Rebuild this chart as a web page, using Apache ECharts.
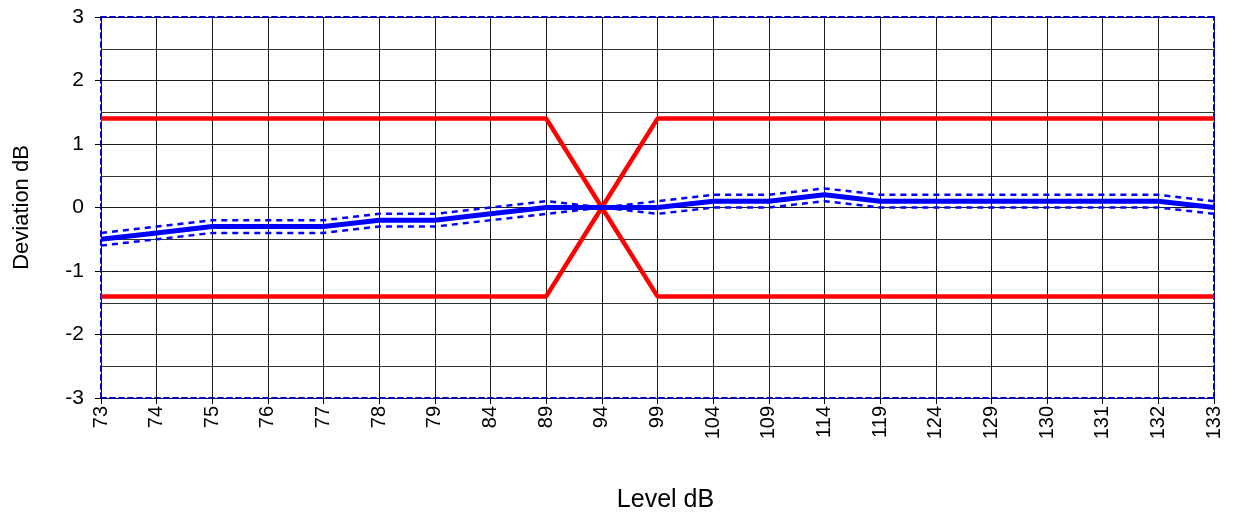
<!DOCTYPE html>
<html><head><meta charset="utf-8">
<script src="https://cdn.jsdelivr.net/npm/echarts@6/dist/echarts.min.js"></script>
<style>html,body{margin:0;padding:0;background:#fff}#c{width:1235px;height:513px}</style>
</head><body><div id="c"></div>
<script>
var categories = ['73','74','75','76','77','78','79','84','89','94','99','104','109','114','119','124','129','130','131','132','133'];
var deviation = [-0.5,-0.4,-0.3,-0.3,-0.3,-0.2,-0.2,-0.1,0,0,0,0.1,0.1,0.2,0.1,0.1,0.1,0.1,0.1,0.1,0];
var upperUnc  = [-0.4,-0.3,-0.2,-0.2,-0.2,-0.1,-0.1,0,0.1,0,0.1,0.2,0.2,0.3,0.2,0.2,0.2,0.2,0.2,0.2,0.1];
var lowerUnc  = [-0.6,-0.5,-0.4,-0.4,-0.4,-0.3,-0.3,-0.2,-0.1,0,-0.1,0,0,0.1,0,0,0,0,0,0,-0.1];
var limitA    = [1.4,1.4,1.4,1.4,1.4,1.4,1.4,1.4,1.4,0,-1.4,-1.4,-1.4,-1.4,-1.4,-1.4,-1.4,-1.4,-1.4,-1.4,-1.4];
var limitB    = [-1.4,-1.4,-1.4,-1.4,-1.4,-1.4,-1.4,-1.4,-1.4,0,1.4,1.4,1.4,1.4,1.4,1.4,1.4,1.4,1.4,1.4,1.4];

var FONT = 'Liberation Sans, Arial, sans-serif';
var borderStyle = {color:'#0000cc', width:2, type:[5,4]};
var chart = echarts.init(document.getElementById('c'));
chart.setOption({
  animation:false,
  backgroundColor:'#fff',
  grid:{left:101, right:21, top:17, bottom:115, containLabel:false, outerBoundsMode:'none'},
  xAxis:[{
    type:'category', data:categories, boundaryGap:false,
    name:'Level dB', nameLocation:'middle', nameGap:90,
    nameTextStyle:{fontFamily:FONT, fontSize:25, color:'#000', padding:[0,0,0,16]},
    axisLine:{show:true, onZero:false, lineStyle:borderStyle},
    axisTick:{show:true, alignWithLabel:true, length:6, lineStyle:{color:'#000'}},
    axisLabel:{rotate:90, fontFamily:FONT, fontSize:20, color:'#000', margin:8, interval:0},
    splitLine:{show:true, lineStyle:{color:'#1a1a1a', width:1}}
  },{
    type:'category', data:categories, boundaryGap:false, position:'top',
    axisLine:{show:true, onZero:false, lineStyle:borderStyle},
    axisTick:{show:false}, axisLabel:{show:false}, splitLine:{show:false}
  }],
  yAxis:[{
    type:'value', min:-3, max:3, interval:1,
    name:'Deviation dB', nameLocation:'middle', nameGap:68, nameRotate:90,
    nameTextStyle:{fontFamily:FONT, fontSize:22, color:'#000'},
    axisLine:{show:true, onZero:false, lineStyle:borderStyle},
    axisTick:{show:true, length:6, lineStyle:{color:'#000'}},
    axisLabel:{fontFamily:FONT, fontSize:21, color:'#000', margin:17},
    splitLine:{show:true, lineStyle:{color:'#1a1a1a', width:1}},
    minorTick:{show:false, splitNumber:2},
    minorSplitLine:{show:true, lineStyle:{color:'#333', width:1}}
  },{
    type:'value', min:-3, max:3, interval:1, position:'right',
    axisLine:{show:true, onZero:false, lineStyle:borderStyle},
    axisTick:{show:false}, axisLabel:{show:false}, splitLine:{show:false}
  }],
  series:[
    {type:'line', data:limitA, symbol:'none', lineStyle:{color:'#ff0000', width:4.5}, z:3},
    {type:'line', data:limitB, symbol:'none', lineStyle:{color:'#ff0000', width:4.5}, z:3},
    {type:'line', data:upperUnc, symbol:'none', lineStyle:{color:'#0000ff', width:2.5, type:[6,5]}, z:4},
    {type:'line', data:lowerUnc, symbol:'none', lineStyle:{color:'#0000ff', width:2.5, type:[6,5]}, z:4},
    {type:'line', data:deviation, symbol:'none', lineStyle:{color:'#0000ff', width:5}, z:5}
  ]
});
</script></body></html>
